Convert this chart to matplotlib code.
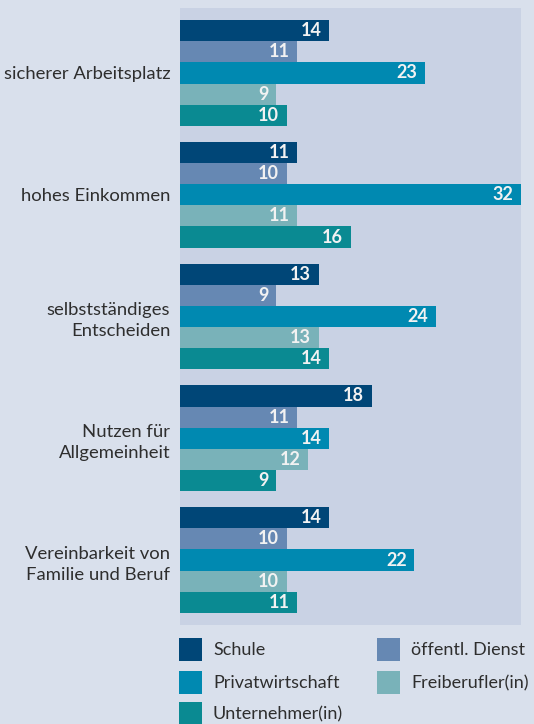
import matplotlib
matplotlib.use('Agg')
import matplotlib.pyplot as plt
from matplotlib.patches import Rectangle

plt.rcParams['font.family'] = ['Lato', 'DejaVu Sans']

categories = ['sicherer Arbeitsplatz', 'hohes Einkommen', 'selbstständiges\nEntscheiden',
              'Nutzen für\nAllgemeinheit', 'Vereinbarkeit von\nFamilie und Beruf']
series_names = ['Schule', 'öffentl. Dienst', 'Privatwirtschaft', 'Freiberufler(in)', 'Unternehmer(in)']
schule = [14, 11, 13, 18, 14]
oeffentlich = [11, 10, 9, 11, 10]
privat = [23, 32, 24, 14, 22]
freiberufler = [9, 11, 13, 12, 10]
unternehmer = [10, 16, 14, 9, 11]
values = [schule, oeffentlich, privat, freiberufler, unternehmer]
colors = ['#004677', '#6688b3', '#0089b1', '#79b2b9', '#0a8a92']

BG = '#d9e0ec'; PANEL = '#c9d2e4'; TXT = '#2e2e2e'
W, H = 534, 724
fig = plt.figure(figsize=(W/100, H/100), dpi=100, facecolor=BG)
ax = fig.add_axes([180/W, 1-625/H, 341/W, 617/H], facecolor=PANEL)

PITCH = 5.75; PAD = 12/21.2
for s, (vals, col) in enumerate(zip(values, colors)):
    ys = [g*PITCH + s + 0.5 for g in range(len(categories))]
    ax.barh(ys, vals, height=1.0, color=col, linewidth=0)
    for y, v in zip(ys, vals):
        ax.annotate(str(v), xy=(v, y), xytext=(-5.5, 0), textcoords='offset points',
                    ha='right', va='center', color='#f2f2f2', fontsize=13, fontweight='bold')

ax.set_xlim(0, 32)
ax.set_ylim(4*PITCH + 5 + PAD, -PAD)
ax.set_yticks([g*PITCH + 2.5 for g in range(len(categories))])
ax.set_yticklabels(categories, fontsize=13.3, color=TXT, linespacing=1.42)
ax.tick_params(axis='y', length=0, pad=7)
ax.set_xticks([])
for sp in ax.spines.values():
    sp.set_visible(False)

# legend, laid out by hand
leg_pos = [(179, 638), (377, 638), (179, 671), (377, 671), (179, 702)]
for (px, py), name, col in zip(leg_pos, series_names, colors):
    fig.add_artist(Rectangle((px/W, 1-(py+23)/H), 23/W, 23/H, transform=fig.transFigure,
                             color=col, linewidth=0))
    fig.text((px+34)/W, 1-(py+12)/H, name, ha='left', va='center', fontsize=13, color=TXT)

fig.savefig('out.png', dpi=100, facecolor=BG)
